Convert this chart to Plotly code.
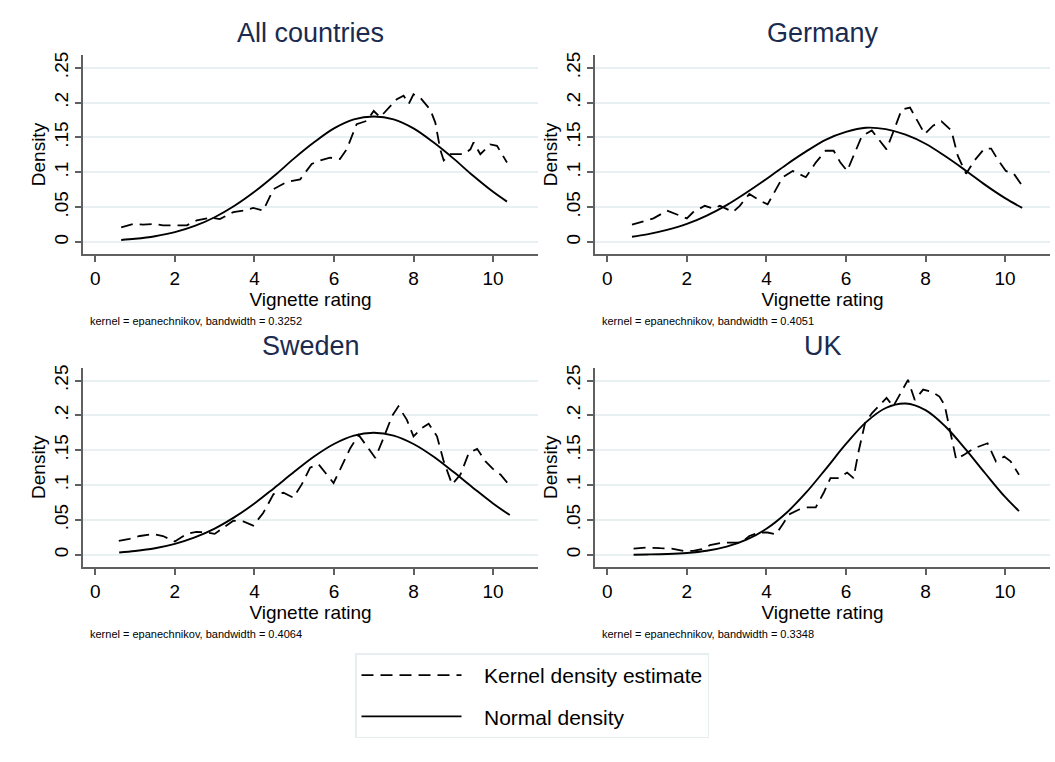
import plotly.graph_objects as go

# ---------------- data ----------------
PANEL_TITLES = ["All countries", "Germany", "Sweden", "UK"]
BANDWIDTHS = ["0.3252", "0.4051", "0.4064", "0.3348"]
LEGEND_LABELS = ["Kernel density estimate", "Normal density"]

ALL_KDE_X = [0.65, 0.95, 1.2, 1.5, 1.7, 2.1, 2.3, 2.55, 2.9, 3.13, 3.47, 3.72, 3.97, 4.22, 4.48,
             4.81, 5.15, 5.44, 5.65, 5.9, 6.15, 6.32, 6.57, 6.83, 7.0, 7.16, 7.33, 7.58, 7.75,
             7.88, 8.0, 8.17, 8.42, 8.55, 8.67, 8.76, 8.93, 9.26, 9.43, 9.51, 9.68, 9.93, 10.1, 10.35]
ALL_KDE_Y = [0.021, 0.026, 0.025, 0.026, 0.024, 0.024, 0.024, 0.031, 0.035, 0.033, 0.043, 0.045,
             0.049, 0.045, 0.076, 0.086, 0.090, 0.112, 0.117, 0.121, 0.119, 0.133, 0.169, 0.174,
             0.188, 0.179, 0.190, 0.205, 0.210, 0.198, 0.212, 0.207, 0.190, 0.171, 0.133, 0.117,
             0.126, 0.126, 0.133, 0.143, 0.126, 0.140, 0.138, 0.114]
ALL_NORM_X = [0.65, 1, 1.5, 2, 2.5, 3, 3.5, 4, 4.5, 5, 5.5, 6, 6.5, 7, 7.5, 8, 8.5, 9, 9.5, 10, 10.35]
ALL_NORM_Y = [0.003, 0.0047, 0.0084, 0.0142, 0.0231, 0.0356, 0.052, 0.072, 0.095, 0.120, 0.143,
              0.163, 0.176, 0.180, 0.176, 0.163, 0.143, 0.120, 0.095, 0.072, 0.058]

DE_KDE_X = [0.62, 0.91, 1.16, 1.5, 1.75, 2.0, 2.16, 2.45, 2.66, 2.83, 3.16, 3.33, 3.57, 3.82, 4.03,
            4.24, 4.41, 4.66, 4.99, 5.24, 5.49, 5.69, 5.86, 6.03, 6.23, 6.40, 6.65, 6.86, 7.02,
            7.23, 7.40, 7.61, 7.77, 7.98, 8.19, 8.40, 8.65, 8.81, 9.02, 9.23, 9.48, 9.65, 9.81,
            10.02, 10.22, 10.43]
DE_KDE_Y = [0.025, 0.030, 0.034, 0.045, 0.040, 0.034, 0.043, 0.052, 0.048, 0.052, 0.043, 0.052,
            0.069, 0.060, 0.054, 0.076, 0.093, 0.102, 0.093, 0.114, 0.131, 0.131, 0.114, 0.102,
            0.129, 0.152, 0.160, 0.145, 0.133, 0.164, 0.190, 0.193, 0.176, 0.155, 0.167, 0.173,
            0.160, 0.124, 0.098, 0.117, 0.134, 0.134, 0.119, 0.102, 0.098, 0.081]
DE_NORM_X = [0.62, 1, 1.5, 2, 2.5, 3, 3.5, 4, 4.5, 5, 5.5, 6, 6.5, 7, 7.5, 8, 8.5, 9, 9.5, 10, 10.43]
DE_NORM_Y = [0.0076, 0.011, 0.0174, 0.026, 0.038, 0.053, 0.071, 0.0905, 0.111, 0.130, 0.147,
             0.158, 0.164, 0.162, 0.154, 0.141, 0.123, 0.103, 0.082, 0.063, 0.049]

SE_KDE_X = [0.59, 0.86, 1.12, 1.45, 1.70, 2.0, 2.29, 2.54, 2.80, 3.0, 3.22, 3.47, 3.72, 3.97, 4.22,
            4.48, 4.73, 4.98, 5.19, 5.40, 5.61, 5.82, 5.99, 6.15, 6.41, 6.62, 6.83, 7.04, 7.25,
            7.46, 7.62, 7.83, 8.0, 8.21, 8.38, 8.59, 8.76, 8.97, 9.18, 9.39, 9.60, 9.81, 10.02,
            10.19, 10.42]
SE_KDE_Y = [0.020, 0.023, 0.027, 0.030, 0.027, 0.019, 0.030, 0.033, 0.032, 0.030, 0.039, 0.049,
            0.048, 0.042, 0.060, 0.087, 0.089, 0.082, 0.101, 0.125, 0.130, 0.115, 0.103, 0.122,
            0.153, 0.172, 0.156, 0.139, 0.168, 0.199, 0.213, 0.194, 0.170, 0.182, 0.188, 0.170,
            0.134, 0.101, 0.115, 0.146, 0.152, 0.134, 0.122, 0.115, 0.099]
SE_NORM_X = [0.6, 1, 1.5, 2, 2.5, 3, 3.5, 4, 4.5, 5, 5.5, 6, 6.5, 7, 7.5, 8, 8.5, 9, 9.5, 10, 10.42]
SE_NORM_Y = [0.0034, 0.0055, 0.0095, 0.0158, 0.025, 0.0376, 0.054, 0.0736, 0.096, 0.119, 0.141,
             0.159, 0.171, 0.175, 0.171, 0.159, 0.141, 0.119, 0.096, 0.0736, 0.057]

UK_KDE_X = [0.66, 1.0, 1.33, 1.62, 1.91, 2.16, 2.37, 2.58, 2.91, 3.16, 3.37, 3.57, 3.82, 4.03, 4.24,
            4.41, 4.57, 4.82, 5.03, 5.24, 5.44, 5.61, 5.82, 6.03, 6.19, 6.32, 6.48, 6.65, 6.86,
            7.02, 7.19, 7.40, 7.56, 7.73, 7.94, 8.15, 8.35, 8.48, 8.65, 8.77, 8.98, 9.23, 9.56,
            9.77, 9.98, 10.14, 10.35]
UK_KDE_Y = [0.009, 0.0105, 0.0095, 0.009, 0.0057, 0.0057, 0.008, 0.0138, 0.0176, 0.0176, 0.0176,
            0.027, 0.032, 0.032, 0.0295, 0.044, 0.058, 0.065, 0.068, 0.068, 0.089, 0.110, 0.110,
            0.118, 0.110, 0.149, 0.189, 0.203, 0.215, 0.225, 0.213, 0.234, 0.251, 0.222, 0.237,
            0.234, 0.227, 0.215, 0.172, 0.137, 0.144, 0.153, 0.160, 0.134, 0.141, 0.134, 0.115]
UK_NORM_X = [0.66, 1, 1.5, 2, 2.5, 3, 3.5, 4, 4.5, 5, 5.5, 6, 6.5, 7, 7.5, 8, 8.5, 9, 9.5, 10, 10.35]
UK_NORM_Y = [0.0002, 0.0005, 0.0012, 0.0027, 0.0058, 0.0117, 0.0217, 0.0374, 0.060, 0.0894,
             0.1237, 0.159, 0.190, 0.2106, 0.217, 0.2075, 0.184, 0.152, 0.117, 0.083, 0.0627]

X_TICKS = [0, 2, 4, 6, 8, 10]
Y_TICKS = [0, 0.05, 0.10, 0.15, 0.20, 0.25]
Y_TICK_LABELS = ["0", ".05", ".1", ".15", ".2", ".25"]

# ---------------- figure ----------------
W, H = 1055, 762
FONT = "Liberation Sans, Arial, sans-serif"
TITLE_COLOR = "#1a2b4f"
AXIS_COLOR = "#606060"
GRID_COLOR = "#e8f0f2"
DASH = "12px,7px"
PAD = "\u00a0\u00a0\u00a0"

panels = [
    (ALL_KDE_X, ALL_KDE_Y, ALL_NORM_X, ALL_NORM_Y),
    (DE_KDE_X, DE_KDE_Y, DE_NORM_X, DE_NORM_Y),
    (SE_KDE_X, SE_KDE_Y, SE_NORM_X, SE_NORM_Y),
    (UK_KDE_X, UK_KDE_Y, UK_NORM_X, UK_NORM_Y),
]

# pixel boxes of plot areas: (left, right, top, bottom)
boxes = [(83, 538, 52, 252.25), (595, 1050, 52, 252.25),
         (83, 538, 366, 566.25), (595, 1050, 366, 566.25)]

fig = go.Figure()
annotations = []
for i, ((kx, ky, nx, ny), (l, r, t, b)) in enumerate(zip(panels, boxes)):
    sfx = "" if i == 0 else str(i + 1)
    fig.add_trace(go.Scatter(x=kx, y=ky, mode="lines", name=PAD + LEGEND_LABELS[0],
                             line=dict(color="black", width=1.8, dash=DASH),
                             xaxis="x" + sfx, yaxis="y" + sfx, showlegend=(i == 0),
                             legendgroup="kde"))
    fig.add_trace(go.Scatter(x=nx, y=ny, mode="lines", name=PAD + LEGEND_LABELS[1],
                             line=dict(color="black", width=1.9, shape="spline"),
                             xaxis="x" + sfx, yaxis="y" + sfx, showlegend=(i == 0),
                             legendgroup="norm"))
    xd = [l / W, r / W]
    yd = [1 - b / H, 1 - t / H]
    common = dict(showline=True, linecolor=AXIS_COLOR, linewidth=1.6, ticks="outside",
                  tickcolor=AXIS_COLOR, ticklen=6, tickwidth=1.6, zeroline=False,
                  tickfont=dict(family=FONT, size=19, color="black"))
    fig.layout["xaxis" + sfx] = dict(
        domain=xd, range=[-0.31, 11.13], tickvals=X_TICKS, showgrid=False,
        anchor="y" + sfx, title=dict(text="Vignette rating", standoff=2,
                                     font=dict(family=FONT, size=19, color="black")),
        **common)
    fig.layout["yaxis" + sfx] = dict(
        domain=yd, range=[-0.0175, 0.2686], tickvals=Y_TICKS, ticktext=Y_TICK_LABELS,
        tickangle=-90, showgrid=True, gridcolor=GRID_COLOR, gridwidth=2,
        anchor="x" + sfx, title=dict(text="Density", standoff=0,
                                     font=dict(family=FONT, size=19, color="black")),
        **common)
    cx = (l + r) / 2
    annotations.append(dict(text=PANEL_TITLES[i], x=cx / W, y=1 - (t - 22) / H,
                            xref="paper", yref="paper", xanchor="center", yanchor="middle",
                            showarrow=False, font=dict(family=FONT, size=27, color=TITLE_COLOR)))
    annotations.append(dict(text="kernel = epanechnikov, bandwidth = " + BANDWIDTHS[i],
                            x=(l + 4.5) / W, y=1 - (b + 67) / H, xref="paper", yref="paper",
                            xanchor="left", yanchor="middle", showarrow=False,
                            font=dict(family=FONT, size=11, color="black")))

fig.update_layout(
    width=W, height=H, margin=dict(l=0, r=0, t=0, b=0),
    paper_bgcolor="white", plot_bgcolor="white",
    font=dict(family=FONT, color="black"),
    annotations=annotations,
    showlegend=True,
    legend=dict(x=355 / W, y=1 - 653 / H, xanchor="left", yanchor="top",
                bordercolor="#e6eef0", borderwidth=1.5, bgcolor="white",
                font=dict(family=FONT, size=21, color="black"),
                itemwidth=100, tracegroupgap=11, traceorder="grouped"),
)

fig.write_html("out.html")
